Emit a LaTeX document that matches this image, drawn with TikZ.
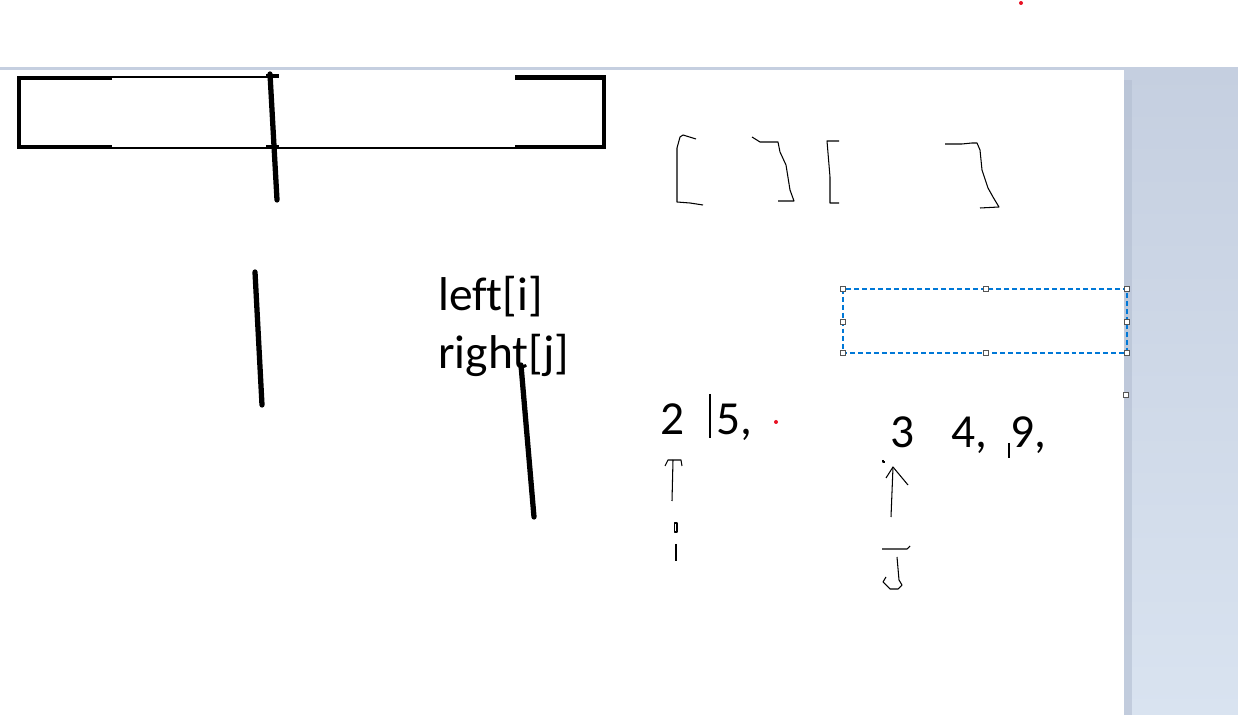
\documentclass[tikz,border=0pt]{standalone}
\usepackage{fontspec}
\setmainfont{Carlito}[Ligatures={NoCommon}]
\usepackage{xcolor}
\usepackage{tikz}
\usetikzlibrary{calc}
\definecolor{pnlgrey}{HTML}{C5CFE0}
\definecolor{pnllow}{HTML}{D9E3F0}
\definecolor{pnledge}{HTML}{B3BED1}
\definecolor{selblue}{HTML}{0078D7}
\definecolor{hdlgrey}{HTML}{555555}
\definecolor{dotred}{HTML}{E81123}
\tikzset{
  thickpen/.style={line width=2.8pt},
  thinpen/.style={line width=1.1pt},
  pencil/.style={line width=0.6pt,line join=round},
  stroke/.style={line width=3pt,line cap=round},
  txt/.style={font=\fontsize{27}{31}\selectfont,inner sep=0pt,anchor=base west},
  handle/.style={draw=hdlgrey,fill=white,line width=0.6pt,minimum size=0.11cm,inner sep=0pt},
  sel/.style={draw=selblue,line width=0.6pt,dash pattern=on 2.8pt off 1.7pt},
}
\begin{document}
\begin{tikzpicture}[x=0.02cm,y=-0.02cm]
  \useasboundingbox (0,0) rectangle (1238,715);
  % window frame
  \fill[white] (0,0) rectangle (1238,715);
  \fill[pnlgrey] (0,67.5) rectangle (1238,70);
  \shade[top color=pnlgrey,bottom color=pnllow] (1124,68) rectangle (1238,715);
  \fill[pnledge,opacity=0.6] (1124,80) rectangle (1132,715);
  % array box
  \draw[thinpen] (112,77) -- (279,77);
  \draw[thinpen] (112,148) -- (515,148);
  \draw[thickpen] (112,78) -- (19,78) -- (19,147) -- (112,147);
  \draw[thickpen] (515,77.5) -- (604,77.5) -- (604,147) -- (515,147);
  \draw[thickpen] (266,76) -- (279,76);
  \draw[thickpen] (266,147) -- (279,147);
  % split strokes
  \draw[stroke] (270,74) -- (277,200);
  \draw[stroke] (255,272) -- (262,405);
  \draw[stroke] (521,365) -- (534,517);
  % labels
  \node[txt] (lft) at (438,311) {left[i]};
  \node[txt] (rgt) at (438,369) {right[j]};
  % brackets
  \draw[pencil] (696,139) -- (683,135) -- (680,137) -- (677,148) -- (677,202) -- (690,203) -- (703,205);
  \draw[pencil] (752,137) -- (760,142) -- (778,142) -- (780,152) -- (786,165) -- (790,190) -- (794,201) -- (778,201);
  \draw[pencil] (839,141) -- (827,141) -- (830,177) -- (830,203) -- (839,203);
  \draw[pencil] (945,144) -- (962,144) -- (972,143) -- (977,143) -- (980,150) -- (982,170) -- (988,188) -- (993,197) -- (999,207) -- (980,208);
  % selection frame
  \draw[sel] (843,289) rectangle (1127,353);
  \foreach \hx/\hy in {843/289,986/289,1127/289,843/322,1127/322,843/353,986/353,1127/353,1126/395}
    \node[handle] at (\hx,\hy) {};
  % numbers
  \node[txt] (ntwo) at (660,435) {2};
  \node[txt] (nfive) at (716,435) {5,};
  \node[txt] (nthree) at (890,448) {3};
  \node[txt] (nfour) at (951,448) {4,};
  \node[txt] (nnine) at (1010,448) {9,};
  \draw[pencil] (710,394) -- (710,438);
  \draw[pencil] (1009,443) -- (1009,458);
  \fill[dotred] (776,422) circle (2);
  \fill[dotred] (1021,3) circle (2);
  % pointer i
  \draw[pencil] (665,466) -- (668,460) -- (681,460) -- (682,466);
  \draw[pencil] (673,460) -- (672,501);
  \draw[pencil] (674.5,523) rectangle (677,532);
  \draw[pencil] (676,544) -- (676,561);
  % pointer j
  \draw[pencil] (883,460) -- (883,462) -- (885,462);
  \draw[pencil] (886,478) -- (893,467) -- (908,485);
  \draw[pencil] (893,467) -- (891,517);
  \draw[pencil] (882,549) -- (907,549) -- (910,546);
  \draw[pencil] (897,557) -- (899,580) -- (902,585) -- (898,589) -- (890,589) -- (883,582) -- (886,577);
\end{tikzpicture}
\end{document}
